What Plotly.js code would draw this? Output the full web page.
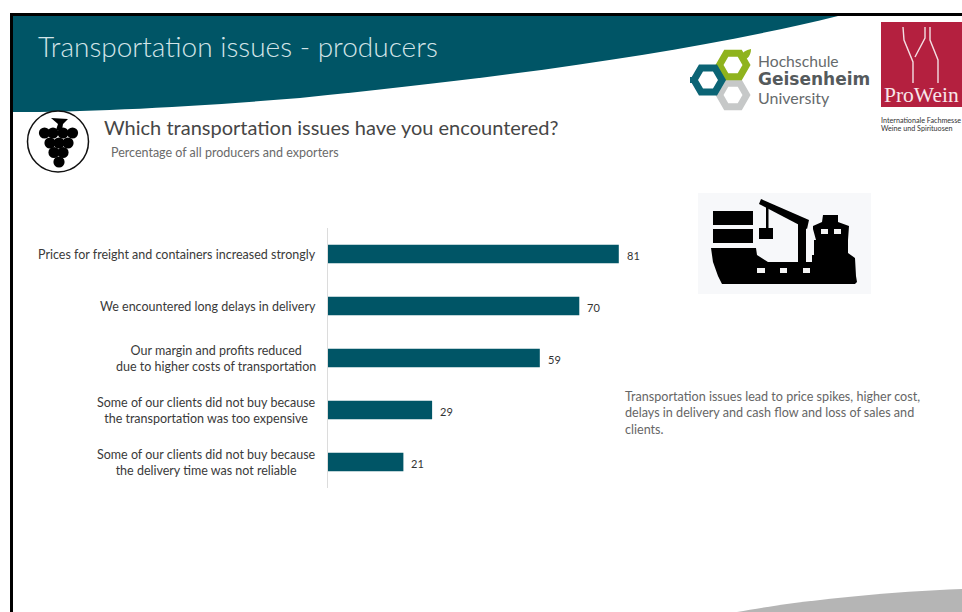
<!DOCTYPE html>
<html>
<head>
<meta charset="utf-8">
<script src="https://cdn.plot.ly/plotly-3.0.1.min.js"></script>
<style>
html, body { margin: 0; padding: 0; background: #fff; overflow: hidden; }
#chart { width: 962px; height: 612px; }
</style>
</head>
<body>
<div id="chart"></div>
<script>
// Survey answers, top to bottom
const categories = [
  "Prices for freight and containers increased strongly",
  "We encountered long delays in delivery",
  "Our margin and profits reduced<br>due to higher costs of transportation",
  "Some of our clients did not buy because<br>the transportation was too expensive",
  "Some of our clients did not buy because<br>the delivery time was not reliable"
];
const values = [81, 70, 59, 29, 21];

const slideTitle = "Transportation issues - producers";
const question = "Which transportation issues have you encountered?";
const subtitle = "Percentage of all producers and exporters";
const takeaway = "Transportation issues lead to price spikes, higher cost,<br>delays in delivery and cash flow and loss of sales and<br>clients.";

const W = 962, H = 612;
const TEAL = "#005566", INK = "#000000";
const FONT = "Lato, 'Open Sans', sans-serif";

// Slide furniture is laid out in page pixels and converted to paper space
const px = x => +(x / W).toFixed(5);
const py = y => +(1 - y / H).toFixed(5);
function path(segments) {
  return segments.map(s => {
    const cmd = s[0], nums = s.slice(1);
    return cmd + nums.map((n, i) => (i % 2 ? py(n) : px(n))).join(",");
  }).join(" ");
}
function poly(points, close = true) {
  const segs = points.map((p, i) => [i ? "L" : "M", p[0], p[1]]);
  if (close) segs.push(["Z"]);
  return path(segs);
}
const shape = (d, fill, line, lw) => ({
  type: "path", xref: "paper", yref: "paper", layer: "below", path: d,
  fillcolor: fill || "rgba(0,0,0,0)",
  line: { color: line || "rgba(0,0,0,0)", width: lw || 0 }
});
const rect = (x0, y0, x1, y1, fill) => ({
  type: "rect", xref: "paper", yref: "paper", layer: "below",
  x0: px(x0), x1: px(x1), y0: py(y0), y1: py(y1),
  fillcolor: fill, line: { width: 0 }
});
const circle = (cx, cy, r, fill, line, lw) => ({
  type: "circle", xref: "paper", yref: "paper", layer: "below",
  x0: px(cx - r), x1: px(cx + r), y0: py(cy - r), y1: py(cy + r),
  fillcolor: fill || "rgba(0,0,0,0)",
  line: { color: line || "rgba(0,0,0,0)", width: lw || 0 }
});
function hexagon(cx, cy, r, color, lw) {
  const pts = [];
  for (let i = 0; i < 6; i++) {
    const a = Math.PI / 3 * i;
    pts.push([cx + r * Math.cos(a), cy + r * Math.sin(a)]);
  }
  return shape(poly(pts), null, color, lw);
}
const label = (x, y, text, size, color, extra) => Object.assign({
  xref: "paper", yref: "paper", x: px(x), y: py(y), text, showarrow: false,
  xanchor: "left", yanchor: "middle", align: "left",
  font: Object.assign({ family: FONT, size, color }, extra || {})
});

const shapes = [];

// Frame and slide header
shapes.push(rect(10, 13, W, 16, INK), rect(10, 13, 13, H, INK));
shapes.push(shape(path([
  ["M", 13, 16], ["L", 838, 16],
  ["C", 700, 50, 520, 76, 300, 98],
  ["C", 190, 107, 90, 112, 13, 112], ["Z"]
]), TEAL));

// Grey swoosh in the bottom corner
shapes.push(shape(path([
  ["M", 737, 612], ["C", 790, 602, 880, 592, 962, 589], ["L", 962, 612], ["Z"]
]), "#b5b5b5"));

// Grape badge
shapes.push(circle(58, 141.5, 30.5, "#ffffff", "#111111", 1.5));
[[44.5, 133], [53, 133], [63, 133], [72.5, 133],
 [50, 143], [59, 143], [68, 143],
 [54, 152.5], [63, 152.5], [59, 162]].forEach(g => shapes.push(circle(g[0], g[1], 5.6, INK)));
shapes.push(shape(poly([[51, 118], [68, 119], [63, 124], [62, 130], [56, 130], [58, 124]]), INK));

// Hochschule Geisenheim mark
shapes.push(hexagon(733, 95, 13.5, "#c6c8c8", 7));
shapes.push(hexagon(733, 65, 13.5, "#8fb31d", 7));
shapes.push(hexagon(708, 80, 14, "#0b6475", 7));
shapes.push(rect(690, 77, 696, 83, "#0b6475"));
shapes.push(shape(path([
  ["M", 741, 57], ["C", 742, 52, 746, 50, 751, 49], ["C", 751, 55, 748, 59, 743, 60], ["Z"]
]), "#8fb31d"));

// ProWein mark
shapes.push(rect(881, 22, 962, 107, "#b4203f"));
const bottleLine = "#f3dfe3";
shapes.push(shape(poly([[903, 27], [904, 40], [913, 62], [913, 83]], false), null, bottleLine, 1.4));
shapes.push(shape(poly([[925, 27], [925, 38], [915, 57]], false), null, bottleLine, 1.4));
shapes.push(shape(poly([[930, 27], [930, 40], [938, 60], [938, 83]], false), null, bottleLine, 1.4));

// Cargo ship pictogram
shapes.push(rect(698, 193, 871, 294, "#f7f8fa"));
shapes.push(rect(713, 211, 753, 225, INK), rect(713, 229, 753, 243, INK));
shapes.push(rect(759, 228, 773, 239, INK), rect(766, 205, 768.5, 229, INK));
shapes.push(shape(poly([[761, 199], [809, 220], [807, 229], [759, 204]]), INK));
shapes.push(rect(798, 222, 806, 263, INK));
shapes.push(shape(poly([
  [711, 248], [756, 248], [757, 255], [768, 262], [812, 262], [812, 255], [814, 255],
  [814, 240], [816, 240], [813, 229], [813, 226], [822, 222], [823, 215], [838, 215],
  [838, 222], [849, 226], [848, 240], [848, 253], [855, 258], [856, 276], [857, 282],
  [855, 284], [722, 284], [718, 276], [713, 262]
]), INK));
[[821, 229, 828, 234], [834, 229, 841, 234],
 [757, 268, 765, 273], [780, 268, 787, 273], [803, 268, 810, 273]]
  .forEach(w => shapes.push(rect(w[0], w[1], w[2], w[3], "#f4f4f4")));

// Category labels sit in the axis gutter, centred line by line
const categoryLabels = categories.map(c => ({
  xref: "paper", yref: "y", x: px(318), y: c, text: c, showarrow: false,
  xanchor: "right", yanchor: "middle", align: "center",
  font: { family: FONT, size: 12.5, color: "#3a3a3a" }
}));

// Value labels placed just past each bar end
const valueLabels = values.map((v, i) => ({
  xref: "x", yref: "y", x: v, y: categories[i], text: String(v), showarrow: false,
  xanchor: "left", yanchor: "middle", xshift: 6, yshift: -1,
  font: { family: FONT, size: 11, color: "#333333" }
}));

const annotations = categoryLabels.concat(valueLabels, [
  label(36, 46, slideTitle, 28, "#d3e4e8", { weight: 300 }),
  label(102, 127, question, 20, "#464646"),
  label(109, 152, subtitle, 12.5, "#6a6a6a"),
  label(623, 413, takeaway, 12.6, "#666666"),
  label(756, 61, "Hochschule", 15.7, "#666a6c"),
  label(756, 79, "Geisenheim", 17, "#555a5c", { family: "'DejaVu Sans', sans-serif", weight: 700 }),
  label(756, 97, "University", 16, "#666a6c"),
  label(882, 95, "ProWein", 21.5, "#f7e6ea", { family: "'Liberation Serif', serif" }),
  label(879, 120, "Internationale Fachmesse", 7.2, "#333333"),
  label(879, 129, "Weine und Spirituosen", 7.2, "#333333")
]);

const trace = {
  type: "bar", orientation: "h",
  x: values, y: categories,
  marker: { color: TEAL },
  hoverinfo: "x+y"
};

const layout = {
  width: W, height: H,
  margin: { l: 0, r: 0, t: 0, b: 0, pad: 0 },
  paper_bgcolor: "#ffffff", plot_bgcolor: "rgba(0,0,0,0)",
  showlegend: false, bargap: 0.644,
  xaxis: {
    domain: [328 / W, 687 / W], range: [0, 100],
    visible: false, fixedrange: true
  },
  yaxis: {
    domain: [1 - 488 / H, 1 - 228 / H],
    type: "category", categoryorder: "array", categoryarray: categories,
    range: [4.5, -0.5], showticklabels: false, ticks: "",
    showgrid: false, zeroline: false, fixedrange: true,
    showline: true, linecolor: "#dcdcdc", linewidth: 1
  },
  shapes, annotations
};

Plotly.newPlot("chart", [trace], layout, { displayModeBar: false, responsive: false });
</script>
</body>
</html>
